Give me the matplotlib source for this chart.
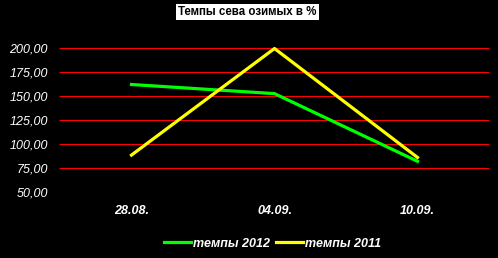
import matplotlib.pyplot as plt

plt.rcParams['font.family'] = ['Liberation Sans', 'DejaVu Sans']

dates = ['28.08.', '04.09.', '10.09.']
tempy_2012 = [162.5, 153.0, 82.5]
tempy_2011 = [89.0, 200.0, 86.5]
y_ticks = [50, 75, 100, 125, 150, 175, 200]

fig = plt.figure(figsize=(4.98, 2.58), dpi=100, facecolor='black')
ax = fig.add_axes([60 / 498, 65.5 / 258, 429 / 498, 144 / 258], facecolor='black')

x = list(range(len(dates)))
ax.plot(x, tempy_2012, color='#00ff00', lw=2.3, label='темпы 2012', clip_on=False, zorder=3)
ax.plot(x, tempy_2011, color='#ffff00', lw=2.3, label='темпы 2011', clip_on=False, zorder=3)

ax.set_xlim(-0.5, 2.5)
ax.set_ylim(50, 200)
ax.set_yticks(y_ticks)
ax.set_yticklabels([f'{v:.2f}'.replace('.', ',') for v in y_ticks],
                   color='white', style='italic', fontsize=9)
ax.set_xticks(x)
ax.set_xticklabels(dates, color='white', style='italic', weight='bold', fontsize=9)
ax.tick_params(length=0)
ax.tick_params(axis='y', pad=8.6)
ax.tick_params(axis='x', pad=9)

# red gridlines, none at the bottom value
ax.grid(axis='y', color='red', lw=0.72, snap=False)
for gl in ax.yaxis.get_gridlines():
    gl.set_clip_on(False)
ax.yaxis.get_gridlines()[0].set_visible(False)
ax.set_axisbelow(True)
for s in ax.spines.values():
    s.set_visible(False)

fig.text(0.4965, 0.953, 'Темпы сева озимых в %', ha='center', va='center',
         fontsize=8.3, weight='bold', color='black',
         bbox=dict(facecolor='white', edgecolor='none', pad=1.5))

leg = fig.legend(loc='center', bbox_to_anchor=(0.547, 0.055), ncol=2, frameon=False,
                 handlelength=2.2, columnspacing=0.45, handletextpad=0.15,
                 prop={'style': 'italic', 'weight': 'bold', 'size': 9})
for t in leg.get_texts():
    t.set_color('white')

fig.savefig('out.png', dpi=100, facecolor='black')
